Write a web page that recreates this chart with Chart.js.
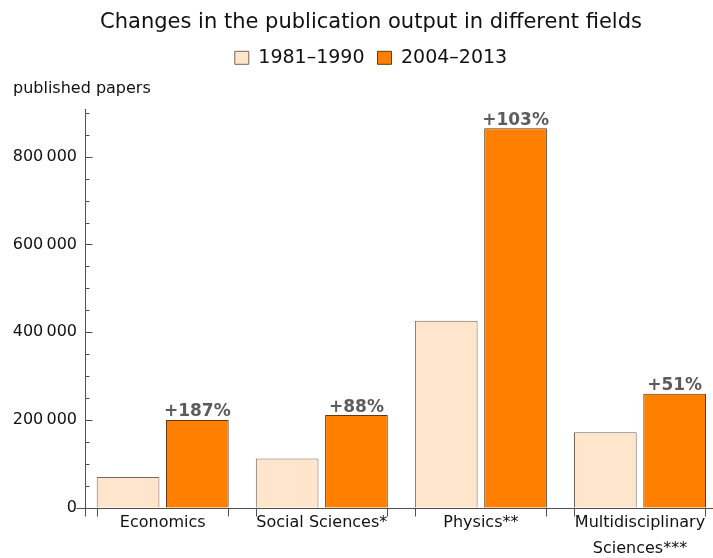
<!DOCTYPE html>
<html>
<head>
<meta charset="utf-8">
<script src="https://cdn.jsdelivr.net/npm/chart.js@4.4.1/dist/chart.umd.min.js"></script>
<style>
  html, body { margin: 0; padding: 0; background: #fff; overflow: hidden; }
  #wrap { position: relative; width: 729px; height: 558px; }
</style>
</head>
<body>
<div id="wrap"><canvas id="pubChart"></canvas></div>
<script>
const fields      = ['Economics', 'Social Sciences*', 'Physics**', ['Multidisciplinary', 'Sciences***']];
const periodOld   = '1981–1990';
const periodNew   = '2004–2013';
const papersOld   = [69700, 112000, 426000, 172000];
const papersNew   = [200000, 211000, 865000, 259500];
const growth      = ['+187%', '+88%', '+103%', '+51%'];
const yTicks      = [0, 200000, 400000, 600000, 800000];
const yMinorStep  = 50000;

const FONT = "'DejaVu Sans', sans-serif";
Chart.defaults.font.family = FONT;
Chart.defaults.color = '#111';

// 800000 -> "800 000" (thin space)
const fmtThousands = v => String(v).replace(/\B(?=(\d{3})+(?!\d))/g, '\u2009');

/* axes drawn by hand: inward ticks, axes running a bit past the origin */
const axisDecor = {
  id: 'axisDecor',
  afterDatasetsDraw(chart) {
    const { ctx, chartArea: a, scales: { x, y } } = chart;
    const y0 = Math.round(y.getPixelForValue(0)) + 0.5;
    const ax = Math.round(a.left) + 0.5;
    ctx.save();
    ctx.strokeStyle = '#505050';
    ctx.lineWidth = 1;
    ctx.beginPath();
    ctx.moveTo(ax - 9, y0); ctx.lineTo(a.right, y0);
    ctx.moveTo(ax, a.top); ctx.lineTo(ax, y0 + 8);
    for (let v = 0; v <= y.max; v += yMinorStep) {
      const py = Math.round(y.getPixelForValue(v)) + 0.5;
      const len = yTicks.includes(v) ? 7 : 4;
      ctx.moveTo(ax, py); ctx.lineTo(ax + len, py);
    }
    // tick marks at the outer edges of each bar pair
    const mOld = chart.getDatasetMeta(0), mNew = chart.getDatasetMeta(1);
    mOld.data.forEach((bar, i) => {
      const l = Math.round(bar.x - bar.width / 2) + 0.5;
      const nb = mNew.data[i];
      const r = Math.round(nb.x + nb.width / 2) - 0.5;
      ctx.moveTo(l, y0); ctx.lineTo(l, y0 + 8);
      ctx.moveTo(r, y0); ctx.lineTo(r, y0 + 8);
    });
    ctx.stroke();

    ctx.font = `bold 17px ${FONT}`;
    ctx.fillStyle = '#5c5c5c';
    ctx.textAlign = 'center';
    ctx.textBaseline = 'alphabetic';
    mNew.data.forEach((bar, i) => ctx.fillText(growth[i], bar.x, bar.y - 3.5));
    ctx.restore();
  }
};

new Chart(document.getElementById('pubChart'), {
  type: 'bar',
  data: {
    datasets: [
      {
        label: periodOld,
        data: papersOld.map((v, i) => ({ x: i, y: v })),
        backgroundColor: '#ffe5cc',
        borderColor: '#76675c',
        borderWidth: 1,
        borderSkipped: 'bottom',
        categoryPercentage: 0.871,
        barPercentage: 0.905
      },
      {
        label: periodNew,
        data: papersNew.map((v, i) => ({ x: i, y: v })),
        backgroundColor: '#ff8000',
        borderColor: '#5e3a16',
        borderWidth: 1,
        borderSkipped: 'bottom',
        categoryPercentage: 0.871,
        barPercentage: 0.905
      }
    ]
  },
  options: {
    responsive: true,
    maintainAspectRatio: false,
    animation: false,
    layout: { padding: { left: 13, right: 0, top: 0, bottom: 0 } },
    scales: {
      x: {
        type: 'linear',
        offset: false,
        min: -0.4884,
        max: 3.5594,
        grid: { display: false, drawTicks: false, offset: false },
        border: { display: false },
        afterBuildTicks: s => { s.ticks = fields.map((_, i) => ({ value: i })); },
        afterFit: s => { s.height = 50.3; },
        ticks: {
          autoSkip: false,
          maxRotation: 0,
          padding: 2.3,
          font: { size: 16, lineHeight: 1.6 },
          callback: v => fields[v]
        }
      },
      y: {
        min: 0,
        max: 908700,
        grid: { display: false, drawTicks: false },
        border: { display: false },
        afterBuildTicks: s => { s.ticks = yTicks.map(v => ({ value: v })); },
        afterFit: s => { s.width = 72; },
        ticks: {
          padding: 8,
          font: { size: 16 },
          callback: v => fmtThousands(v)
        }
      }
    },
    plugins: {
      title: {
        display: true,
        text: 'Changes in the publication output in different fields',
        font: { size: 21, weight: 'normal' },
        padding: { top: 10, bottom: 0.1 }
      },
      legend: {
        labels: {
          boxWidth: 14,
          boxHeight: 13,
          padding: 13,
          font: { size: 19 }
        }
      },
      subtitle: {
        display: true,
        text: 'published papers',
        align: 'start',
        weight: 500,
        font: { size: 16 },
        padding: { top: 1.6, bottom: 10.9 }
      },
      tooltip: { enabled: false }
    }
  },
  plugins: [axisDecor]
});
</script>
</body>
</html>
